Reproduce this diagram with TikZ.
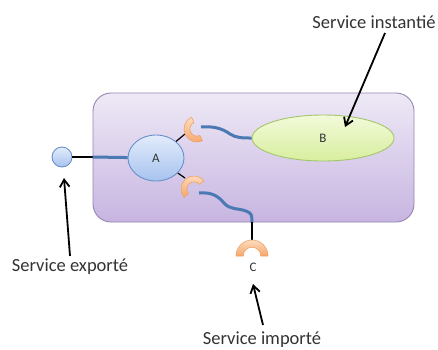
\documentclass[tikz,border=0pt]{standalone}
\usepackage{fontspec}
\setmainfont{Carlito}
\usepackage{tikz}
\usetikzlibrary{calc,arrows.meta,shapes.geometric}
\definecolor{lilatop}{HTML}{EEE9F6}
\definecolor{lilabot}{HTML}{C7B5E1}
\definecolor{lilaline}{HTML}{9686B0}
\definecolor{bluetop}{HTML}{E2ECFB}
\definecolor{bluebot}{HTML}{A7C3EE}
\definecolor{blueline}{HTML}{6A90CC}
\definecolor{wire}{HTML}{4A79B3}
\definecolor{limetop}{HTML}{F2FADA}
\definecolor{limebot}{HTML}{D8EE9E}
\definecolor{limeline}{HTML}{A3C66A}
\definecolor{orgtop}{HTML}{FDDDBF}
\definecolor{orgbot}{HTML}{F5A66A}
\definecolor{orgline}{HTML}{EDA36A}
\definecolor{txt}{HTML}{333333}
\tikzset{
  ar/.style={-{Straight Barb[length=2.6mm,width=3.4mm]},line width=1.8pt,black},
  comp/.style={ellipse,draw=blueline,line width=0.9pt,top color=bluetop,bottom color=bluebot,inner sep=0pt,font=\fontsize{13}{15}\selectfont,text=txt},
  inst/.style={ellipse,draw=limeline,line width=0.9pt,top color=limetop,bottom color=limebot,inner sep=0pt,font=\fontsize{13}{15}\selectfont,text=txt},
  cont/.style={draw=lilaline,line width=0.9pt,rounded corners=18pt,top color=lilatop,bottom color=lilabot,inner sep=0pt},
  sock/.style={draw=orgline,line width=0.6pt,top color=orgtop,bottom color=orgbot,line join=round},
  wr/.style={wire,line width=3pt},
  lk/.style={black,line width=1.2pt},
  lbl/.style={font=\fontsize{18.5}{21}\selectfont,text=txt,inner sep=2pt}
}
% socket: name, x, y, opening angle, outer radius
\newcommand{\sockt}[5]{%
  \coordinate (#1) at (#2,#3);
  \pgfmathsetmacro\rin{0.55*#5}
  \draw[sock] ($(#1)+(#4+90:#5)$) arc (#4+90:#4+270:#5) -- ($(#1)+(#4+270:\rin)$) arc (#4+270:#4+90:\rin) -- cycle;}

\begin{document}
\begin{tikzpicture}[x=1pt,y=-1pt]
\useasboundingbox[fill=white] (0,0) rectangle (438,349);
\node[cont,minimum width=321pt,minimum height=129pt] (box) at (253.5,157.5) {};
\node[comp,minimum width=56pt,minimum height=46pt] (A) at (156,158) {A};
\node[inst,minimum width=142pt,minimum height=46pt] (B) at (323,138) {B};
\node[circle,draw=blueline,line width=0.9pt,top color=bluetop,bottom color=bluebot,minimum size=20pt,inner sep=0pt] (exp) at (62,157) {};

\coordinate (s1i) at (201,127);
\coordinate (s2i) at (199,193);
\coordinate (s3b) at (252,240);
\coordinate (s1b) at (185,134);
\coordinate (s2b) at (185,178);

\draw[lk] (exp) -- (exp -| box.west);
\draw[wr] (exp -| box.west) -- (A);
\draw[lk] (A) -- (s1b);
\draw[lk] (A) -- (s2b);
\draw[wr] (s1i) .. controls (212,126) and (222,128) .. (230,134) .. controls (236,138) and (243,138) .. (B.west);
\draw[wr] (s2i) .. controls (212,192) and (218,196) .. (224,203) .. controls (230,210) and (238,208) .. (246,211) .. controls (252,213) and (252,216) .. (s3b |- box.south);
\draw[lk] (s3b |- box.south) -- (s3b);

\sockt{k1}{197}{129}{-25}{13}
\sockt{k2}{194}{189}{50}{13}
\sockt{k3}{252}{256}{90}{16}

\node[font=\fontsize{13}{15}\selectfont,text=txt] (C) at (253,267) {C};

\node[lbl] (tinst) at (374,22) {Service instantié};
\node[lbl] (texp) at (70,267) {Service exporté};
\node[lbl] (timp) at (262,340) {Service importé};
\coordinate (pB) at (345,127);
\coordinate (pexp) at (64,178);
\coordinate (pimp) at (253,284);
\draw[ar] (385,33) -- (pB);
\draw[ar] (texp.north) ++(0,-1) -- (pexp);
\draw[ar] (263,325) -- (pimp);
\end{tikzpicture}
\end{document}
